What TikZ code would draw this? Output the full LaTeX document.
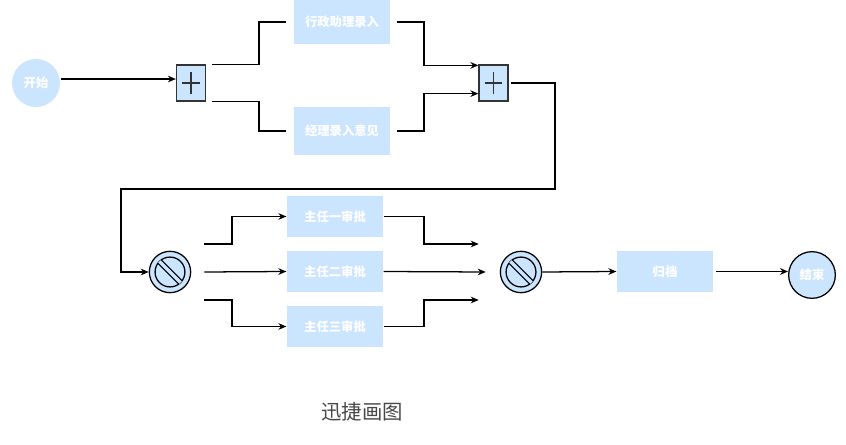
\documentclass[tikz,border=0pt]{standalone}
\usepackage{fontspec}
\usepackage{tikz}
\usetikzlibrary{positioning,calc,arrows.meta}
\newfontfamily\cjk{Noto Sans CJK SC}
\definecolor{lblue}{HTML}{CCE5FF}
\definecolor{gborder}{HTML}{333333}

\begin{document}
\begin{tikzpicture}[x=0.75pt, y=-0.75pt, line width=0.95pt, >={Stealth[length=6pt,width=5pt]},
        task/.style={rectangle, fill=lblue, minimum width=72pt, minimum height=31pt, text=white, font=\cjk\bfseries\fontsize{9.25}{11}\selectfont},
        event/.style={circle, fill=lblue, minimum size=36pt, inner sep=0pt, text=white, font=\cjk\bfseries\fontsize{9.25}{11}\selectfont},
        plusgate/.style={draw=gborder, rectangle, fill=lblue, minimum width=21.75pt, minimum height=27pt, inner sep=0pt,
            path picture={\draw[gborder, line width=1.1pt] (path picture bounding box.center) +(0,-8.6pt) -- +(0,8.6pt)
                (path picture bounding box.center) +(-6.4pt,0) -- +(6.4pt,0);}},
        xorgate/.style={draw, circle, fill=lblue, minimum size=31pt, inner sep=0pt,
            path picture={\draw (path picture bounding box.center) circle (11.2pt);
                \draw[double=lblue, double distance=2.6pt] ($(path picture bounding box.center)+(135:11.2pt)$) -- ($(path picture bounding box.center)+(-45:11.2pt)$);}}]
        \useasboundingbox (0,0) rectangle (846,445);

        % nodes
        \node[event] (start) at (36,83) {开始};
        \node[plusgate] (g1) at (191,83) {};
        \node[task, minimum height=33.75pt] (t1) at (342,22) {行政助理录入};
        \node[task, minimum height=36pt] (t2) at (342,131) {经理录入意见};
        \node[plusgate] (g2) at (493.5,83) {};
        \node[xorgate] (g3) at (170,272) {};
        \node[task] (a1) at (335,216.5) {主任一审批};
        \node[task] (a2) at (335,271.5) {主任二审批};
        \node[task] (a3) at (335,326.5) {主任三审批};
        \node[xorgate] (g4) at (521,272) {};
        \node[task] (arch) at (665,271.5) {归档};
        \node[event, draw, minimum size=35pt] (end) at (812,275) {结束};
        \node[text=gborder!90, font=\cjk\fontsize{15.3}{18}\selectfont] (cap) at (362,412) {迅捷画图};

        % bends
        \coordinate (b1) at (259,0);
        \coordinate (b2) at (424,0);
        \coordinate (b3) at (232,0);
        \coordinate (rt) at (555,189);
        \coordinate (lt) at (121,189);
        \coordinate (in1) at ([yshift=-0.75pt]g2.north west);
        \coordinate (in2) at ([yshift=6pt]g2.south west);
        \coordinate (e1) at ([shift={(-15.75pt,21pt)}]g4.west);
        \coordinate (e3) at ([shift={(-15.75pt,-21pt)}]g4.west);

        \draw[->] ([yshift=3pt]start.east) -- ([yshift=3pt]g1.west);
        \draw ([xshift=4.5pt]g1.north east) -| (b1 |- t1.west) -- ([xshift=-5.25pt]t1.west);
        \draw ([xshift=4.5pt]g1.south east) -| (b1 |- t2.west) -- ([xshift=-5.25pt]t2.west);
        \draw[->] ([xshift=5pt]t1.east) -| (b2 |- in1) -- (in1);
        \draw[->] ([xshift=5pt]t2.east) -| (b2 |- in2) -- (in2);
        \draw[->] ([xshift=1.5pt]g2.east) -| (rt) -- (lt) |- (g3.west);

        \draw[->] ([shift={(9.75pt,21pt)}]g3.east) -| (b3 |- a1.west) -- (a1.west);
        \draw[->] ([xshift=9.75pt]g3.east) -- (a2.west);
        \draw[->] ([shift={(9.75pt,-21pt)}]g3.east) -| (b3 |- a3.west) -- (a3.west);
        \draw[->] (a1.east) -| (b2 |- e1) -- (e1);
        \draw[->] (a2.east) -- ([xshift=-10.5pt]g4.west);
        \draw[->] (a3.east) -| (b2 |- e3) -- (e3);
        \draw[->] (g4.east) -- (arch.west);
        \draw[->] ([xshift=2pt]arch.east) -- (end.west |- arch.east);
    \end{tikzpicture}
\end{document}
